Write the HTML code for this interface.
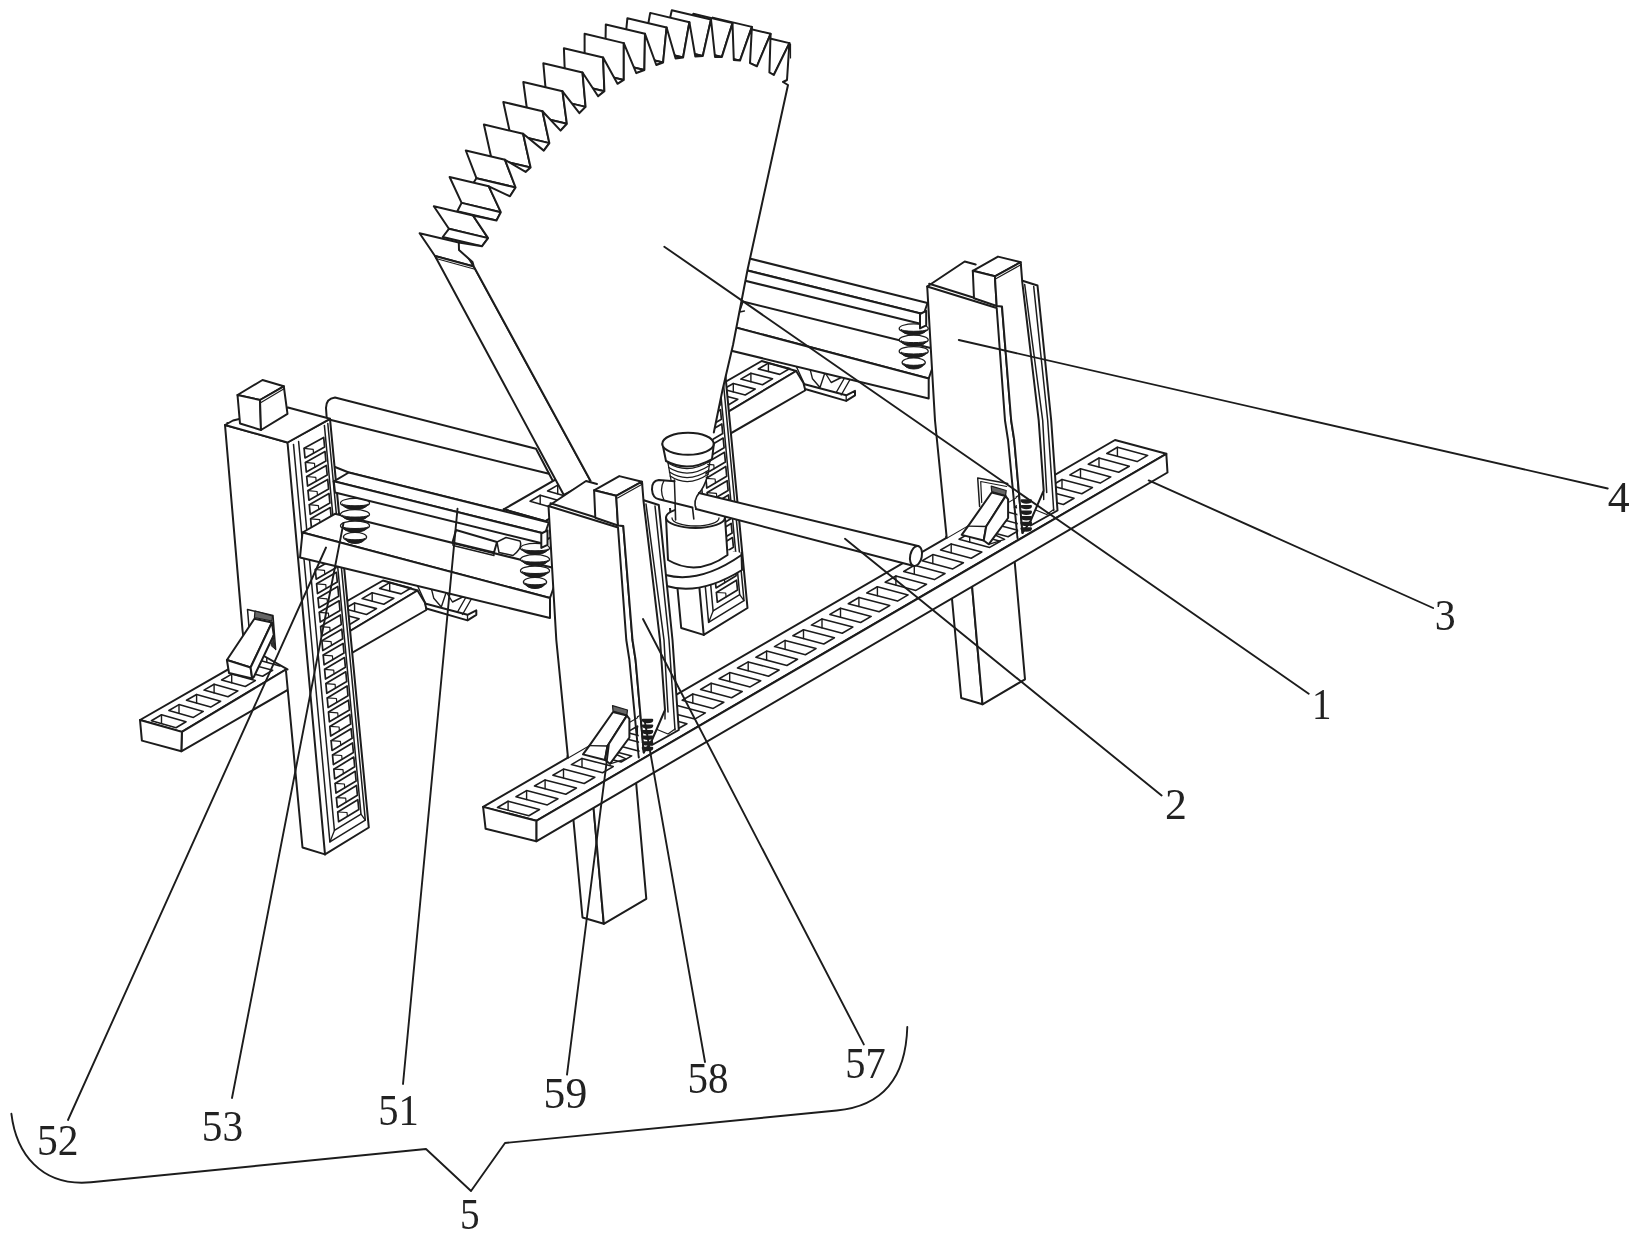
<!DOCTYPE html>
<html><head><meta charset="utf-8"><title>Figure</title>
<style>
html,body{margin:0;padding:0;background:#fff;}
body{width:1638px;height:1238px;overflow:hidden;}
svg{display:block;filter:blur(0.5px);}
text{font-family:"Liberation Serif","Noto Serif CJK SC",serif;fill:#222;stroke:none;}
</style></head><body>
<svg width="1638" height="1238" viewBox="0 0 1638 1238" stroke="#1c1c1c" stroke-width="2.0" stroke-linejoin="round" stroke-linecap="round" fill="none">
<path d="M326,408 Q326,398.5 335,397.5 L536,448.8 L556,487 L556,524 L348.8,472.5 L330,465 Z" fill="#fff"/>
<polyline points="331,420 549,473.8" fill="none"/>
<g transform="translate(378.7 -219.5)">
<polygon points="125,728.8 166.9,740.7 417.5,590.5 383,580.5" fill="#fff"/>
<polygon points="166.9,740.7 417.5,590.5 426.3,605 426.3,610 166.3,760.1" fill="#fff"/>
<polygon points="125,728.8 166.9,740.7 166.3,760.1 126.9,749.4" fill="#fff"/>
<polygon points="151.4,720.7 161.5,714.8 186,721.7 176,727.7" fill="none" stroke-width="1.6"/>
<polyline points="161.5,714.8 161.5,723.5" fill="none" stroke-width="1.4"/>
<polygon points="168.9,710.5 179,704.6 203.3,711.4 193.4,717.4" fill="none" stroke-width="1.6"/>
<polyline points="179,704.6 179,713.3" fill="none" stroke-width="1.4"/>
<polygon points="186.5,700.3 196.6,694.5 220.6,701.2 210.7,707.1" fill="none" stroke-width="1.6"/>
<polyline points="196.6,694.5 196.6,703.1" fill="none" stroke-width="1.4"/>
<polygon points="204,690.1 214.1,684.3 237.9,690.9 228,696.8" fill="none" stroke-width="1.6"/>
<polyline points="214.1,684.3 214.1,692.9" fill="none" stroke-width="1.4"/>
<polygon points="221.6,680 231.7,674.1 255.3,680.6 245.3,686.5" fill="none" stroke-width="1.6"/>
<polyline points="231.7,674.1 231.7,682.8" fill="none" stroke-width="1.4"/>
<polygon points="239.2,669.8 249.3,664 272.6,670.3 262.6,676.2" fill="none" stroke-width="1.6"/>
<polyline points="249.3,664 249.3,672.6" fill="none" stroke-width="1.4"/>
<polygon points="256.7,659.6 266.8,653.8 289.9,660 279.9,665.9" fill="none" stroke-width="1.6"/>
<polyline points="266.8,653.8 266.8,662.4" fill="none" stroke-width="1.4"/>
<polygon points="274.3,649.5 284.4,643.6 307.2,649.7 297.2,655.6" fill="none" stroke-width="1.6"/>
<polyline points="284.4,643.6 284.4,652.2" fill="none" stroke-width="1.4"/>
<polygon points="291.8,639.3 301.9,633.5 324.5,639.4 314.6,645.3" fill="none" stroke-width="1.6"/>
<polyline points="301.9,633.5 301.9,642" fill="none" stroke-width="1.4"/>
<polygon points="309.4,629.1 319.5,623.3 341.8,629.1 331.9,635.1" fill="none" stroke-width="1.6"/>
<polyline points="319.5,623.3 319.5,631.8" fill="none" stroke-width="1.4"/>
<polygon points="327,619 337.1,613.1 359.1,618.8 349.2,624.8" fill="none" stroke-width="1.6"/>
<polyline points="337.1,613.1 337.1,621.6" fill="none" stroke-width="1.4"/>
<polygon points="344.5,608.8 354.6,603 376.5,608.6 366.5,614.5" fill="none" stroke-width="1.6"/>
<polyline points="354.6,603 354.6,611.4" fill="none" stroke-width="1.4"/>
<polygon points="362.1,598.6 372.2,592.8 393.8,598.3 383.8,604.2" fill="none" stroke-width="1.6"/>
<polyline points="372.2,592.8 372.2,601.2" fill="none" stroke-width="1.4"/>
<polygon points="379.6,588.5 389.7,582.6 411.1,588 401.1,593.9" fill="none" stroke-width="1.6"/>
<polyline points="389.7,582.6 389.7,591" fill="none" stroke-width="1.4"/>
<polygon points="225,425 287.5,442.5 308.2,669.4 287.5,669.4 256,651.5 246,658 242.5,630" fill="#fff" stroke="none"/>
<polyline points="246,658 242.5,630 225,425 287.5,442.5" fill="none"/>
<polyline points="256,651.5 287.5,669.4" fill="none"/>
<polyline points="227,422.5 289.5,439.5" fill="none" stroke-width="1.2"/>
<polygon points="286,671 302.5,847.5 325,854.4 308.3,671" fill="#fff" stroke="none"/>
<polyline points="286,671 302.5,847.5 325,854.4" fill="none"/>
<polygon points="287.5,442.5 330,418.8 368.8,827.5 325,854.4" fill="#fff"/>
<polyline points="293.5,444.4 329.9,841.9 365.3,820.1 327.8,423.5" fill="none" stroke-width="1.5"/>
<polyline points="298.6,441.5 334.4,830.4 361,814.1 324.4,425.4" fill="none" stroke-width="1.5"/>
<polyline points="329.9,841.9 334.4,830.4" fill="none" stroke-width="1.3"/>
<polyline points="365.3,820.1 361,814.1" fill="none" stroke-width="1.3"/>
<polygon points="304.1,448.3 323.7,437.4 324.6,446.9 305,457.9" fill="none" stroke-width="1.7"/>
<polyline points="304.1,448.3 313.2,449.3 313.5,453.1" fill="none" stroke-width="1.2"/>
<polygon points="305.4,462.4 325,451.4 325.9,461 306.3,472" fill="none" stroke-width="1.7"/>
<polyline points="305.4,462.4 314.5,463.4 314.8,467.2" fill="none" stroke-width="1.2"/>
<polygon points="306.7,476.5 326.3,465.5 327.2,475 307.6,486.1" fill="none" stroke-width="1.7"/>
<polyline points="306.7,476.5 315.8,477.4 316.2,481.3" fill="none" stroke-width="1.2"/>
<polygon points="308,490.6 327.7,479.5 328.6,489 308.9,500.2" fill="none" stroke-width="1.7"/>
<polyline points="308,490.6 317.1,491.5 317.5,495.3" fill="none" stroke-width="1.2"/>
<polygon points="309.3,504.7 329,493.5 329.9,503.1 310.2,514.3" fill="none" stroke-width="1.7"/>
<polyline points="309.3,504.7 318.4,505.6 318.8,509.4" fill="none" stroke-width="1.2"/>
<polygon points="310.6,518.8 330.3,507.6 331.2,517.1 311.5,528.3" fill="none" stroke-width="1.7"/>
<polyline points="310.6,518.8 319.7,519.6 320.1,523.4" fill="none" stroke-width="1.2"/>
<polygon points="311.9,532.8 331.6,521.6 332.5,531.1 312.8,542.4" fill="none" stroke-width="1.7"/>
<polyline points="311.9,532.8 321,533.7 321.4,537.5" fill="none" stroke-width="1.2"/>
<polygon points="315.3,569.5 335.1,558.1 336,567.8 316.2,579.2" fill="none" stroke-width="1.7"/>
<polyline points="315.3,569.5 324.5,570.4 324.8,574.2" fill="none" stroke-width="1.2"/>
<polygon points="316.6,583.8 336.4,572.3 337.3,582 317.5,593.5" fill="none" stroke-width="1.7"/>
<polyline points="316.6,583.8 325.8,584.6 326.1,588.5" fill="none" stroke-width="1.2"/>
<polygon points="318,598 337.8,586.5 338.7,596.2 318.9,607.7" fill="none" stroke-width="1.7"/>
<polyline points="318,598 327.1,598.9 327.5,602.7" fill="none" stroke-width="1.2"/>
<polygon points="319.3,612.3 339.1,600.8 340,610.4 320.2,622" fill="none" stroke-width="1.7"/>
<polyline points="319.3,612.3 328.4,613.1 328.8,617" fill="none" stroke-width="1.2"/>
<polygon points="320.6,626.6 340.4,615 341.3,624.6 321.5,636.3" fill="none" stroke-width="1.7"/>
<polyline points="320.6,626.6 329.8,627.3 330.1,631.2" fill="none" stroke-width="1.2"/>
<polygon points="321.9,640.8 341.8,629.2 342.7,638.8 322.8,650.5" fill="none" stroke-width="1.7"/>
<polyline points="321.9,640.8 331.1,641.6 331.5,645.4" fill="none" stroke-width="1.2"/>
<polygon points="323.2,655.1 343.1,643.4 344,653.1 324.1,664.8" fill="none" stroke-width="1.7"/>
<polyline points="323.2,655.1 332.4,655.8 332.8,659.7" fill="none" stroke-width="1.2"/>
<polygon points="324.6,669.3 344.5,657.6 345.4,667.3 325.5,679" fill="none" stroke-width="1.7"/>
<polyline points="324.6,669.3 333.7,670.1 334.1,673.9" fill="none" stroke-width="1.2"/>
<polygon points="325.9,683.6 345.8,671.8 346.7,681.5 326.8,693.3" fill="none" stroke-width="1.7"/>
<polyline points="325.9,683.6 335.1,684.3 335.4,688.2" fill="none" stroke-width="1.2"/>
<polygon points="327.2,697.9 347.1,686 348,695.7 328.1,707.6" fill="none" stroke-width="1.7"/>
<polyline points="327.2,697.9 336.4,698.5 336.8,702.4" fill="none" stroke-width="1.2"/>
<polygon points="328.5,712.1 348.5,700.2 349.4,709.9 329.4,721.8" fill="none" stroke-width="1.7"/>
<polyline points="328.5,712.1 337.7,712.8 338.1,716.6" fill="none" stroke-width="1.2"/>
<polygon points="329.8,726.4 349.8,714.4 350.7,724.1 330.7,736.1" fill="none" stroke-width="1.7"/>
<polyline points="329.8,726.4 339.1,727 339.4,730.9" fill="none" stroke-width="1.2"/>
<polygon points="331.1,740.7 351.1,728.7 352.1,738.3 332,750.4" fill="none" stroke-width="1.7"/>
<polyline points="331.1,740.7 340.4,741.3 340.7,745.1" fill="none" stroke-width="1.2"/>
<polygon points="332.5,754.9 352.5,742.9 353.4,752.5 333.4,764.6" fill="none" stroke-width="1.7"/>
<polyline points="332.5,754.9 341.7,755.5 342.1,759.4" fill="none" stroke-width="1.2"/>
<polygon points="333.8,769.2 353.8,757.1 354.7,766.7 334.7,778.9" fill="none" stroke-width="1.7"/>
<polyline points="333.8,769.2 343,769.7 343.4,773.6" fill="none" stroke-width="1.2"/>
<polygon points="335.1,783.4 355.2,771.3 356.1,781 336,793.1" fill="none" stroke-width="1.7"/>
<polyline points="335.1,783.4 344.4,784 344.7,787.8" fill="none" stroke-width="1.2"/>
<polygon points="336.4,797.7 356.5,785.5 357.4,795.2 337.3,807.4" fill="none" stroke-width="1.7"/>
<polyline points="336.4,797.7 345.7,798.2 346.1,802.1" fill="none" stroke-width="1.2"/>
<polygon points="337.7,812 357.8,799.7 358.8,809.4 338.6,821.7" fill="none" stroke-width="1.7"/>
<polyline points="337.7,812 347,812.5 347.4,816.3" fill="none" stroke-width="1.2"/>
<polygon points="225,425 233,420.5 288,407.5 330,418.8 287.5,442.5" fill="#fff"/>
<polygon points="237.5,395 262.5,380 283.8,386.3 260,400" fill="#fff"/>
<polygon points="237.5,395 260,400 261,430 240,423.5" fill="#fff"/>
<polygon points="260,400 283.8,386.3 287.5,413.8 261,430" fill="#fff"/>
<polyline points="261,402.5 284.5,388.5" fill="none" stroke-width="1.2"/>
<polyline points="249.4,632 247.5,609.4 273,615.6 275.6,649.4" fill="none" stroke-width="1.5"/>
<polygon points="255,611 272.5,616 272,621 254.4,617.5" fill="#666" stroke-width="1.2"/>
<polygon points="254.4,618.8 271.9,622.5 250.6,667.5 226.9,660" fill="#fff"/>
<polygon points="226.9,660 250.6,667.5 252.2,678.5 229,673" fill="#fff"/>
<polygon points="271.9,622.5 273.8,635 253.8,677 252.2,678.5 250.6,667.5" fill="#fff"/>
<polygon points="273,636 275.6,649.4 271.5,646" fill="#333" stroke-width="1"/>
<polygon points="425,603.5 467.5,614.8 476.3,610.4 476.3,614.8 467.5,620.4 426.3,608.5" fill="#fff"/>
<polyline points="467.5,614.8 467.5,620.4" fill="none" stroke-width="1.3"/>
<polyline points="417.5,585.8 425,602" fill="none" stroke-width="1.4"/>
<polyline points="431.3,588.3 433.8,598.3 441.3,607 446.3,592 452.5,602 467.5,594.5 457.5,612" fill="none" stroke-width="1.4"/>
<polyline points="472.5,597 462.5,614.5" fill="none" stroke-width="1.4"/>
<polygon points="302.5,532.5 335,513.8 560,569.5 550,598" fill="#fff"/>
<polygon points="302.5,532.5 550,598 550,618 300,557.5" fill="#fff"/>
<ellipse cx="535" cy="548" rx="14.5" ry="4.6" fill="#fff" stroke-width="1.3"/>
<path d="M522.5,549.2 A12.5,5.3 0 0 0 547.5,549.2 A12.5,1.6 0 0 1 522.5,549.2 Z" fill="#1c1c1c" stroke-width="1.0"/>
<ellipse cx="535" cy="559.3" rx="14.5" ry="4.6" fill="#fff" stroke-width="1.3"/>
<path d="M522.5,560.5 A12.5,5.3 0 0 0 547.5,560.5 A12.5,1.6 0 0 1 522.5,560.5 Z" fill="#1c1c1c" stroke-width="1.0"/>
<ellipse cx="535" cy="570.7" rx="14.5" ry="4.6" fill="#fff" stroke-width="1.3"/>
<path d="M522.5,571.9 A12.5,5.3 0 0 0 547.5,571.9 A12.5,1.6 0 0 1 522.5,571.9 Z" fill="#1c1c1c" stroke-width="1.0"/>
<ellipse cx="535" cy="582" rx="11.6" ry="4.6" fill="#fff" stroke-width="1.3"/>
<path d="M525,583.2 A10,5.3 0 0 0 545,583.2 A10,1.6 0 0 1 525,583.2 Z" fill="#1c1c1c" stroke-width="1.0"/>
<polygon points="348.8,472.5 548.8,522.5 545,533.8 333.8,481.3" fill="#fff"/>
<polygon points="333.8,481.3 545,533.8 543.8,543.8 335,492.5" fill="#fff"/>
<polygon points="541.3,533.5 547.5,530.4 547.5,544.8 541.3,547.9" fill="#fff"/>
</g>
<polygon points="140,720 181.9,731.9 417.5,590.5 383,580.5" fill="#fff"/>
<polygon points="181.9,731.9 417.5,590.5 426.3,605 426.3,610 181.3,751.3" fill="#fff"/>
<polygon points="140,720 181.9,731.9 181.3,751.3 141.9,740.6" fill="#fff"/>
<polygon points="151.4,720.7 161.5,714.8 186,721.7 176,727.7" fill="none" stroke-width="1.6"/>
<polyline points="161.5,714.8 161.5,723.5" fill="none" stroke-width="1.4"/>
<polygon points="168.9,710.5 179,704.6 203.3,711.4 193.4,717.4" fill="none" stroke-width="1.6"/>
<polyline points="179,704.6 179,713.3" fill="none" stroke-width="1.4"/>
<polygon points="186.5,700.3 196.6,694.5 220.6,701.2 210.7,707.1" fill="none" stroke-width="1.6"/>
<polyline points="196.6,694.5 196.6,703.1" fill="none" stroke-width="1.4"/>
<polygon points="204,690.1 214.1,684.3 237.9,690.9 228,696.8" fill="none" stroke-width="1.6"/>
<polyline points="214.1,684.3 214.1,692.9" fill="none" stroke-width="1.4"/>
<polygon points="221.6,680 231.7,674.1 255.3,680.6 245.3,686.5" fill="none" stroke-width="1.6"/>
<polyline points="231.7,674.1 231.7,682.8" fill="none" stroke-width="1.4"/>
<polygon points="239.2,669.8 249.3,664 272.6,670.3 262.6,676.2" fill="none" stroke-width="1.6"/>
<polyline points="249.3,664 249.3,672.6" fill="none" stroke-width="1.4"/>
<polygon points="256.7,659.6 266.8,653.8 289.9,660 279.9,665.9" fill="none" stroke-width="1.6"/>
<polyline points="266.8,653.8 266.8,662.4" fill="none" stroke-width="1.4"/>
<polygon points="274.3,649.5 284.4,643.6 307.2,649.7 297.2,655.6" fill="none" stroke-width="1.6"/>
<polyline points="284.4,643.6 284.4,652.2" fill="none" stroke-width="1.4"/>
<polygon points="291.8,639.3 301.9,633.5 324.5,639.4 314.6,645.3" fill="none" stroke-width="1.6"/>
<polyline points="301.9,633.5 301.9,642" fill="none" stroke-width="1.4"/>
<polygon points="309.4,629.1 319.5,623.3 341.8,629.1 331.9,635.1" fill="none" stroke-width="1.6"/>
<polyline points="319.5,623.3 319.5,631.8" fill="none" stroke-width="1.4"/>
<polygon points="327,619 337.1,613.1 359.1,618.8 349.2,624.8" fill="none" stroke-width="1.6"/>
<polyline points="337.1,613.1 337.1,621.6" fill="none" stroke-width="1.4"/>
<polygon points="344.5,608.8 354.6,603 376.5,608.6 366.5,614.5" fill="none" stroke-width="1.6"/>
<polyline points="354.6,603 354.6,611.4" fill="none" stroke-width="1.4"/>
<polygon points="362.1,598.6 372.2,592.8 393.8,598.3 383.8,604.2" fill="none" stroke-width="1.6"/>
<polyline points="372.2,592.8 372.2,601.2" fill="none" stroke-width="1.4"/>
<polygon points="379.6,588.5 389.7,582.6 411.1,588 401.1,593.9" fill="none" stroke-width="1.6"/>
<polyline points="389.7,582.6 389.7,591" fill="none" stroke-width="1.4"/>
<polygon points="225,425 287.5,442.5 308.2,669.4 287.5,669.4 256,651.5 246,658 242.5,630" fill="#fff" stroke="none"/>
<polyline points="246,658 242.5,630 225,425 287.5,442.5" fill="none"/>
<polyline points="256,651.5 287.5,669.4" fill="none"/>
<polyline points="227,422.5 289.5,439.5" fill="none" stroke-width="1.2"/>
<polygon points="286,671 302.5,847.5 325,854.4 308.3,671" fill="#fff" stroke="none"/>
<polyline points="286,671 302.5,847.5 325,854.4" fill="none"/>
<polygon points="287.5,442.5 330,418.8 368.8,827.5 325,854.4" fill="#fff"/>
<polyline points="293.5,444.4 329.9,841.9 365.3,820.1 327.8,423.5" fill="none" stroke-width="1.5"/>
<polyline points="298.6,441.5 334.4,830.4 361,814.1 324.4,425.4" fill="none" stroke-width="1.5"/>
<polyline points="329.9,841.9 334.4,830.4" fill="none" stroke-width="1.3"/>
<polyline points="365.3,820.1 361,814.1" fill="none" stroke-width="1.3"/>
<polygon points="304.1,448.3 323.7,437.4 324.6,446.9 305,457.9" fill="none" stroke-width="1.7"/>
<polyline points="304.1,448.3 313.2,449.3 313.5,453.1" fill="none" stroke-width="1.2"/>
<polygon points="305.4,462.4 325,451.4 325.9,461 306.3,472" fill="none" stroke-width="1.7"/>
<polyline points="305.4,462.4 314.5,463.4 314.8,467.2" fill="none" stroke-width="1.2"/>
<polygon points="306.7,476.5 326.3,465.5 327.2,475 307.6,486.1" fill="none" stroke-width="1.7"/>
<polyline points="306.7,476.5 315.8,477.4 316.2,481.3" fill="none" stroke-width="1.2"/>
<polygon points="308,490.6 327.7,479.5 328.6,489 308.9,500.2" fill="none" stroke-width="1.7"/>
<polyline points="308,490.6 317.1,491.5 317.5,495.3" fill="none" stroke-width="1.2"/>
<polygon points="309.3,504.7 329,493.5 329.9,503.1 310.2,514.3" fill="none" stroke-width="1.7"/>
<polyline points="309.3,504.7 318.4,505.6 318.8,509.4" fill="none" stroke-width="1.2"/>
<polygon points="310.6,518.8 330.3,507.6 331.2,517.1 311.5,528.3" fill="none" stroke-width="1.7"/>
<polyline points="310.6,518.8 319.7,519.6 320.1,523.4" fill="none" stroke-width="1.2"/>
<polygon points="311.9,532.8 331.6,521.6 332.5,531.1 312.8,542.4" fill="none" stroke-width="1.7"/>
<polyline points="311.9,532.8 321,533.7 321.4,537.5" fill="none" stroke-width="1.2"/>
<polygon points="315.3,569.5 335.1,558.1 336,567.8 316.2,579.2" fill="none" stroke-width="1.7"/>
<polyline points="315.3,569.5 324.5,570.4 324.8,574.2" fill="none" stroke-width="1.2"/>
<polygon points="316.6,583.8 336.4,572.3 337.3,582 317.5,593.5" fill="none" stroke-width="1.7"/>
<polyline points="316.6,583.8 325.8,584.6 326.1,588.5" fill="none" stroke-width="1.2"/>
<polygon points="318,598 337.8,586.5 338.7,596.2 318.9,607.7" fill="none" stroke-width="1.7"/>
<polyline points="318,598 327.1,598.9 327.5,602.7" fill="none" stroke-width="1.2"/>
<polygon points="319.3,612.3 339.1,600.8 340,610.4 320.2,622" fill="none" stroke-width="1.7"/>
<polyline points="319.3,612.3 328.4,613.1 328.8,617" fill="none" stroke-width="1.2"/>
<polygon points="320.6,626.6 340.4,615 341.3,624.6 321.5,636.3" fill="none" stroke-width="1.7"/>
<polyline points="320.6,626.6 329.8,627.3 330.1,631.2" fill="none" stroke-width="1.2"/>
<polygon points="321.9,640.8 341.8,629.2 342.7,638.8 322.8,650.5" fill="none" stroke-width="1.7"/>
<polyline points="321.9,640.8 331.1,641.6 331.5,645.4" fill="none" stroke-width="1.2"/>
<polygon points="323.2,655.1 343.1,643.4 344,653.1 324.1,664.8" fill="none" stroke-width="1.7"/>
<polyline points="323.2,655.1 332.4,655.8 332.8,659.7" fill="none" stroke-width="1.2"/>
<polygon points="324.6,669.3 344.5,657.6 345.4,667.3 325.5,679" fill="none" stroke-width="1.7"/>
<polyline points="324.6,669.3 333.7,670.1 334.1,673.9" fill="none" stroke-width="1.2"/>
<polygon points="325.9,683.6 345.8,671.8 346.7,681.5 326.8,693.3" fill="none" stroke-width="1.7"/>
<polyline points="325.9,683.6 335.1,684.3 335.4,688.2" fill="none" stroke-width="1.2"/>
<polygon points="327.2,697.9 347.1,686 348,695.7 328.1,707.6" fill="none" stroke-width="1.7"/>
<polyline points="327.2,697.9 336.4,698.5 336.8,702.4" fill="none" stroke-width="1.2"/>
<polygon points="328.5,712.1 348.5,700.2 349.4,709.9 329.4,721.8" fill="none" stroke-width="1.7"/>
<polyline points="328.5,712.1 337.7,712.8 338.1,716.6" fill="none" stroke-width="1.2"/>
<polygon points="329.8,726.4 349.8,714.4 350.7,724.1 330.7,736.1" fill="none" stroke-width="1.7"/>
<polyline points="329.8,726.4 339.1,727 339.4,730.9" fill="none" stroke-width="1.2"/>
<polygon points="331.1,740.7 351.1,728.7 352.1,738.3 332,750.4" fill="none" stroke-width="1.7"/>
<polyline points="331.1,740.7 340.4,741.3 340.7,745.1" fill="none" stroke-width="1.2"/>
<polygon points="332.5,754.9 352.5,742.9 353.4,752.5 333.4,764.6" fill="none" stroke-width="1.7"/>
<polyline points="332.5,754.9 341.7,755.5 342.1,759.4" fill="none" stroke-width="1.2"/>
<polygon points="333.8,769.2 353.8,757.1 354.7,766.7 334.7,778.9" fill="none" stroke-width="1.7"/>
<polyline points="333.8,769.2 343,769.7 343.4,773.6" fill="none" stroke-width="1.2"/>
<polygon points="335.1,783.4 355.2,771.3 356.1,781 336,793.1" fill="none" stroke-width="1.7"/>
<polyline points="335.1,783.4 344.4,784 344.7,787.8" fill="none" stroke-width="1.2"/>
<polygon points="336.4,797.7 356.5,785.5 357.4,795.2 337.3,807.4" fill="none" stroke-width="1.7"/>
<polyline points="336.4,797.7 345.7,798.2 346.1,802.1" fill="none" stroke-width="1.2"/>
<polygon points="337.7,812 357.8,799.7 358.8,809.4 338.6,821.7" fill="none" stroke-width="1.7"/>
<polyline points="337.7,812 347,812.5 347.4,816.3" fill="none" stroke-width="1.2"/>
<polygon points="225,425 233,420.5 288,407.5 330,418.8 287.5,442.5" fill="#fff"/>
<polygon points="237.5,395 262.5,380 283.8,386.3 260,400" fill="#fff"/>
<polygon points="237.5,395 260,400 261,430 240,423.5" fill="#fff"/>
<polygon points="260,400 283.8,386.3 287.5,413.8 261,430" fill="#fff"/>
<polyline points="261,402.5 284.5,388.5" fill="none" stroke-width="1.2"/>
<polyline points="249.4,632 247.5,609.4 273,615.6 275.6,649.4" fill="none" stroke-width="1.5"/>
<polygon points="255,611 272.5,616 272,621 254.4,617.5" fill="#666" stroke-width="1.2"/>
<polygon points="254.4,618.8 271.9,622.5 250.6,667.5 226.9,660" fill="#fff"/>
<polygon points="226.9,660 250.6,667.5 252.2,678.5 229,673" fill="#fff"/>
<polygon points="271.9,622.5 273.8,635 253.8,677 252.2,678.5 250.6,667.5" fill="#fff"/>
<polygon points="273,636 275.6,649.4 271.5,646" fill="#333" stroke-width="1"/>
<polygon points="425,603.5 467.5,614.8 476.3,610.4 476.3,614.8 467.5,620.4 426.3,608.5" fill="#fff"/>
<polyline points="467.5,614.8 467.5,620.4" fill="none" stroke-width="1.3"/>
<polyline points="417.5,585.8 425,602" fill="none" stroke-width="1.4"/>
<polyline points="431.3,588.3 433.8,598.3 441.3,607 446.3,592 452.5,602 467.5,594.5 457.5,612" fill="none" stroke-width="1.4"/>
<polyline points="472.5,597 462.5,614.5" fill="none" stroke-width="1.4"/>
<polygon points="302.5,532.5 335,513.8 560,569.5 550,598" fill="#fff"/>
<polygon points="302.5,532.5 550,598 550,618 300,557.5" fill="#fff"/>
<polygon points="456,530 497,542 494,552.5 452.5,542.5" fill="#fff"/>
<polyline points="452.5,542.5 453,545.5 494,555.5 494,552.5" fill="none" stroke-width="1.3"/>
<path d="M497,542 L506,537.5 L520,541 Q523,548 513,555.5 L499,552.5 Z" fill="#fff" stroke-width="1.5"/>
<ellipse cx="355" cy="503" rx="14.5" ry="4.6" fill="#fff" stroke-width="1.3"/>
<path d="M342.5,504.2 A12.5,5.3 0 0 0 367.5,504.2 A12.5,1.6 0 0 1 342.5,504.2 Z" fill="#1c1c1c" stroke-width="1.0"/>
<ellipse cx="355" cy="514.3" rx="14.5" ry="4.6" fill="#fff" stroke-width="1.3"/>
<path d="M342.5,515.5 A12.5,5.3 0 0 0 367.5,515.5 A12.5,1.6 0 0 1 342.5,515.5 Z" fill="#1c1c1c" stroke-width="1.0"/>
<ellipse cx="355" cy="525.7" rx="14.5" ry="4.6" fill="#fff" stroke-width="1.3"/>
<path d="M342.5,526.9 A12.5,5.3 0 0 0 367.5,526.9 A12.5,1.6 0 0 1 342.5,526.9 Z" fill="#1c1c1c" stroke-width="1.0"/>
<ellipse cx="355" cy="537" rx="11.6" ry="4.6" fill="#fff" stroke-width="1.3"/>
<path d="M345,538.2 A10,5.3 0 0 0 365,538.2 A10,1.6 0 0 1 345,538.2 Z" fill="#1c1c1c" stroke-width="1.0"/>
<ellipse cx="535" cy="548" rx="14.5" ry="4.6" fill="#fff" stroke-width="1.3"/>
<path d="M522.5,549.2 A12.5,5.3 0 0 0 547.5,549.2 A12.5,1.6 0 0 1 522.5,549.2 Z" fill="#1c1c1c" stroke-width="1.0"/>
<ellipse cx="535" cy="559.3" rx="14.5" ry="4.6" fill="#fff" stroke-width="1.3"/>
<path d="M522.5,560.5 A12.5,5.3 0 0 0 547.5,560.5 A12.5,1.6 0 0 1 522.5,560.5 Z" fill="#1c1c1c" stroke-width="1.0"/>
<ellipse cx="535" cy="570.7" rx="14.5" ry="4.6" fill="#fff" stroke-width="1.3"/>
<path d="M522.5,571.9 A12.5,5.3 0 0 0 547.5,571.9 A12.5,1.6 0 0 1 522.5,571.9 Z" fill="#1c1c1c" stroke-width="1.0"/>
<ellipse cx="535" cy="582" rx="11.6" ry="4.6" fill="#fff" stroke-width="1.3"/>
<path d="M525,583.2 A10,5.3 0 0 0 545,583.2 A10,1.6 0 0 1 525,583.2 Z" fill="#1c1c1c" stroke-width="1.0"/>
<polygon points="348.8,472.5 548.8,522.5 545,533.8 333.8,481.3" fill="#fff"/>
<polygon points="333.8,481.3 545,533.8 543.8,543.8 335,492.5" fill="#fff"/>
<polygon points="541.3,533.5 547.5,530.4 547.5,544.8 541.3,547.9" fill="#fff"/>
<polygon points="789.4,43.1 750.2,33.8 734.6,65.7 773.8,75" fill="#fff"/>
<polygon points="769.4,72.5 773.8,75 734.6,65.7 730.2,63.2" fill="#fff"/>
<polygon points="770.6,33.8 731.4,24.5 717.7,57 756.9,66.3" fill="#fff"/>
<polygon points="750,63.1 756.9,66.3 717.7,57 710.8,53.8" fill="#fff"/>
<polygon points="751.9,26.9 712.7,17.6 700.8,51.3 740,60.6" fill="#fff"/>
<polygon points="733.8,60 740,60.6 700.8,51.3 694.6,50.7" fill="#fff"/>
<polygon points="732.5,23.1 693.3,13.8 682.7,47.6 721.9,56.9" fill="#fff"/>
<polygon points="715,56.9 721.9,56.9 682.7,47.6 675.8,47.6" fill="#fff"/>
<polygon points="711,19.5 671.8,10.2 663.6,46.7 702.8,56" fill="#fff"/>
<polygon points="695.3,56.5 702.8,56 663.6,46.7 656.1,47.2" fill="#fff"/>
<polygon points="689.4,22.2 650.2,12.9 643.9,48.2 683.1,57.5" fill="#fff"/>
<polygon points="675.6,58.5 683.1,57.5 643.9,48.2 636.4,49.2" fill="#fff"/>
<polygon points="666.6,27.5 627.4,18.2 623.9,53.2 663.1,62.5" fill="#fff"/>
<polygon points="656.3,65 663.1,62.5 623.9,53.2 617.1,55.7" fill="#fff"/>
<polygon points="645,33.8 605.8,24.5 605.2,60.7 644.4,70" fill="#fff"/>
<polygon points="636.3,73.1 644.4,70 605.2,60.7 597.1,63.8" fill="#fff"/>
<polygon points="623.8,43.1 584.6,33.8 584.6,70.7 623.8,80" fill="#fff"/>
<polygon points="617.5,83.8 623.8,80 584.6,70.7 578.3,74.5" fill="#fff"/>
<polygon points="603.1,57.5 563.9,48.2 565.2,82 604.4,91.3" fill="#fff"/>
<polygon points="598.1,96.3 604.4,91.3 565.2,82 558.9,87" fill="#fff"/>
<polygon points="582.5,72.5 543.3,63.2 546.4,97.6 585.6,106.9" fill="#fff"/>
<polygon points="579.4,113.1 585.6,106.9 546.4,97.6 540.2,103.8" fill="#fff"/>
<polygon points="562.5,91.3 523.3,82 527.7,114.5 566.9,123.8" fill="#fff"/>
<polygon points="560.6,130.6 566.9,123.8 527.7,114.5 521.4,121.3" fill="#fff"/>
<polygon points="542.5,111.3 503.3,102 510.2,133.8 549.4,143.1" fill="#fff"/>
<polygon points="543.8,150.6 549.4,143.1 510.2,133.8 504.6,141.3" fill="#fff"/>
<polygon points="523.1,133.8 483.9,124.5 491.4,158.2 530.6,167.5" fill="#fff"/>
<polygon points="525.6,171.9 530.6,167.5 491.4,158.2 486.4,162.6" fill="#fff"/>
<polygon points="505,159.8 465.8,150.5 476.4,178.2 515.6,187.5" fill="#fff"/>
<polygon points="510,196.3 515.6,187.5 476.4,178.2 470.8,187" fill="#fff"/>
<polygon points="488.8,186.3 449.6,177 461.6,202.9 500.8,212.2" fill="#fff"/>
<polygon points="496.5,220.5 500.8,212.2 461.6,202.9 457.3,211.2" fill="#fff"/>
<polygon points="473,215.5 433.8,206.2 448.9,228.8 488.1,238.1" fill="#fff"/>
<polygon points="481.9,246.3 488.1,238.1 448.9,228.8 442.7,237" fill="#fff"/>
<polygon points="458.8,242.5 419.6,233.2 435,256 473.8,266.5" fill="#fff"/>
<polygon points="435,256 473.8,266.5 590.6,481 563.8,495" fill="#fff"/>
<polyline points="436,258.5 474,269" fill="none" stroke-width="1.2"/>
<polygon points="458.8,242.5 481.9,246.3 488.1,238.1 473,215.5 496.5,220.5 500.8,212.2 488.8,186.3 510,196.3 515.6,187.5 505,159.8 525.6,171.9 530.6,167.5 523.1,133.8 543.8,150.6 549.4,143.1 542.5,111.3 560.6,130.6 566.9,123.8 562.5,91.3 579.4,113.1 585.6,106.9 582.5,72.5 598.1,96.3 604.4,91.3 603.1,57.5 617.5,83.8 623.8,80 623.8,43.1 636.3,73.1 644.4,70 645,33.8 656.3,65 663.1,62.5 666.6,27.5 675.6,58.5 683.1,57.5 689.4,22.2 695.3,56.5 702.8,56 711,19.5 715,56.9 721.9,56.9 732.5,23.1 733.8,60 740,60.6 751.9,26.9 750,63.1 756.9,66.3 770.6,33.8 769.4,72.5 773.8,75 789.4,43.1 787,80 783,82 788,85 747.5,270 733,345 722.5,390 713.8,432.5 704,480 696,508 606,508 590.6,481 473.8,266.5 472.5,262 459,250" fill="#fff" stroke="none"/>
<polyline points="590.6,481 473.8,266.5 472.5,262 459,250 458.8,242.5 481.9,246.3 488.1,238.1 473,215.5 496.5,220.5 500.8,212.2 488.8,186.3 510,196.3 515.6,187.5 505,159.8 525.6,171.9 530.6,167.5 523.1,133.8 543.8,150.6 549.4,143.1 542.5,111.3 560.6,130.6 566.9,123.8 562.5,91.3 579.4,113.1 585.6,106.9 582.5,72.5 598.1,96.3 604.4,91.3 603.1,57.5 617.5,83.8 623.8,80 623.8,43.1 636.3,73.1 644.4,70 645,33.8 656.3,65 663.1,62.5 666.6,27.5 675.6,58.5 683.1,57.5 689.4,22.2 695.3,56.5 702.8,56 711,19.5 715,56.9 721.9,56.9 732.5,23.1 733.8,60 740,60.6 751.9,26.9 750,63.1 756.9,66.3 770.6,33.8 769.4,72.5 773.8,75 789.4,43.1 787,80 783,82 788,85 747.5,270 733,345 722.5,390 713.8,432.5" fill="none"/>
<polyline points="790.5,44 790.5,58" fill="none" stroke-width="1.2"/>
<polyline points="743,302 739.5,312 744.5,311" fill="none" stroke-width="1.3"/>
<path d="M665.6,575 L666.5,586 Q700,596 742,570 L741.5,553 L727,550 L668,558 Z" fill="#fff" stroke="none"/>
<path d="M665.6,575 L666.5,586 Q700,596 742,570 L741.5,553" fill="none"/>
<path d="M665.6,575 Q700,584 741.5,555" fill="none"/>
<path d="M666,517.5 L668,560 Q697,577 727.5,555 L725,517.5 Z" fill="#fff"/>
<ellipse cx="695.5" cy="517.5" rx="29.5" ry="10.5" fill="#fff"/>
<path d="M672,518 A23.5,8 0 0 0 719,518" fill="none" stroke-width="1.3"/>
<polygon points="674.4,478 707,478 700,492 696,509 693.8,521 675.6,521" fill="#fff" stroke="none"/>
<polyline points="674.4,480 675.6,520" fill="none" stroke-width="1.6"/>
<polyline points="692.5,507.5 693.8,519" fill="none" stroke-width="1.6"/>
<path d="M662.5,444 L666,461 Q688,473 712,459 L714,443 Z" fill="#fff"/>
<ellipse cx="688" cy="443.8" rx="25.7" ry="11" fill="#fff"/>
<path d="M668,463 Q688,475 710,461" fill="none" stroke-width="1.3"/>
<path d="M668.7,467.5 Q688,479.5 709.5,465.5" fill="none" stroke-width="1.3"/>
<path d="M669.4,472 Q688,484 709,470" fill="none" stroke-width="1.3"/>
<path d="M670.1,476 Q688,488 708.5,474" fill="none" stroke-width="1.3"/>
<polyline points="668,463 671,480" fill="none" stroke-width="1.3"/>
<polyline points="710,461 708,474" fill="none" stroke-width="1.3"/>
<polygon points="567.5,756 582.5,917.5 603.8,923.8 592,790" fill="#fff"/>
<polygon points="592,790 603.8,923.8 646.3,898.8 635,770" fill="#fff"/>
<g transform="translate(378.7 -219.5)">
<polygon points="567.5,756 582.5,917.5 603.8,923.8 592,790" fill="#fff"/>
<polygon points="592,790 603.8,923.8 646.3,898.8 635,770" fill="#fff"/>
</g>
<polygon points="483.1,806.9 536.3,820.8 1166.3,453.8 1115,440" fill="#fff"/>
<polygon points="536.3,820.8 1166.3,453.8 1167.5,472.5 536.3,841.3" fill="#fff"/>
<polygon points="483.1,806.9 536.3,820.8 536.3,841.3 485.6,828.8" fill="#fff"/>
<polygon points="497.5,807.5 508.1,801.3 539.5,809.5 528.9,815.7" fill="none" stroke-width="1.6"/>
<polyline points="508.1,801.3 508.1,810.3" fill="none" stroke-width="1.4"/>
<polygon points="516,796.8 526.6,790.6 557.9,798.8 547.3,804.9" fill="none" stroke-width="1.6"/>
<polyline points="526.6,790.6 526.6,799.5" fill="none" stroke-width="1.4"/>
<polygon points="534.5,786 545.1,779.9 576.4,788 565.8,794.2" fill="none" stroke-width="1.6"/>
<polyline points="545.1,779.9 545.1,788.8" fill="none" stroke-width="1.4"/>
<polygon points="552.9,775.3 563.5,769.1 594.8,777.3 584.2,783.5" fill="none" stroke-width="1.6"/>
<polyline points="563.5,769.1 563.5,778.1" fill="none" stroke-width="1.4"/>
<polygon points="571.4,764.6 582,758.4 613.2,766.6 602.6,772.8" fill="none" stroke-width="1.6"/>
<polyline points="582,758.4 582,767.4" fill="none" stroke-width="1.4"/>
<polygon points="589.8,753.8 600.5,747.7 631.7,755.9 621.1,762" fill="none" stroke-width="1.6"/>
<polyline points="600.5,747.7 600.5,756.6" fill="none" stroke-width="1.4"/>
<polygon points="608.3,743.1 618.9,736.9 650.1,745.1 639.5,751.3" fill="none" stroke-width="1.6"/>
<polyline points="618.9,736.9 618.9,745.9" fill="none" stroke-width="1.4"/>
<polygon points="626.8,732.4 637.4,726.2 668.5,734.4 657.9,740.6" fill="none" stroke-width="1.6"/>
<polyline points="637.4,726.2 637.4,735.2" fill="none" stroke-width="1.4"/>
<polygon points="645.2,721.7 655.8,715.5 686.9,723.7 676.3,729.8" fill="none" stroke-width="1.6"/>
<polyline points="655.8,715.5 655.8,724.5" fill="none" stroke-width="1.4"/>
<polygon points="663.7,710.9 674.3,704.8 705.4,712.9 694.8,719.1" fill="none" stroke-width="1.6"/>
<polyline points="674.3,704.8 674.3,713.7" fill="none" stroke-width="1.4"/>
<polygon points="682.2,700.2 692.8,694 723.8,702.2 713.2,708.4" fill="none" stroke-width="1.6"/>
<polyline points="692.8,694 692.8,703" fill="none" stroke-width="1.4"/>
<polygon points="700.6,689.5 711.2,683.3 742.2,691.5 731.6,697.7" fill="none" stroke-width="1.6"/>
<polyline points="711.2,683.3 711.2,692.3" fill="none" stroke-width="1.4"/>
<polygon points="719.1,678.8 729.7,672.6 760.7,680.8 750.1,686.9" fill="none" stroke-width="1.6"/>
<polyline points="729.7,672.6 729.7,681.5" fill="none" stroke-width="1.4"/>
<polygon points="737.5,668 748.2,661.9 779.1,670 768.5,676.2" fill="none" stroke-width="1.6"/>
<polyline points="748.2,661.9 748.2,670.8" fill="none" stroke-width="1.4"/>
<polygon points="756,657.3 766.6,651.1 797.5,659.3 786.9,665.5" fill="none" stroke-width="1.6"/>
<polyline points="766.6,651.1 766.6,660.1" fill="none" stroke-width="1.4"/>
<polygon points="774.5,646.6 785.1,640.4 816,648.6 805.4,654.7" fill="none" stroke-width="1.6"/>
<polyline points="785.1,640.4 785.1,649.4" fill="none" stroke-width="1.4"/>
<polygon points="792.9,635.8 803.5,629.7 834.4,637.8 823.8,644" fill="none" stroke-width="1.6"/>
<polyline points="803.5,629.7 803.5,638.6" fill="none" stroke-width="1.4"/>
<polygon points="811.4,625.1 822,618.9 852.8,627.1 842.2,633.3" fill="none" stroke-width="1.6"/>
<polyline points="822,618.9 822,627.9" fill="none" stroke-width="1.4"/>
<polygon points="829.9,614.4 840.5,608.2 871.2,616.4 860.6,622.5" fill="none" stroke-width="1.6"/>
<polyline points="840.5,608.2 840.5,617.2" fill="none" stroke-width="1.4"/>
<polygon points="848.3,603.7 858.9,597.5 889.7,605.6 879.1,611.8" fill="none" stroke-width="1.6"/>
<polyline points="858.9,597.5 858.9,606.5" fill="none" stroke-width="1.4"/>
<polygon points="866.8,592.9 877.4,586.8 908.1,594.9 897.5,601.1" fill="none" stroke-width="1.6"/>
<polyline points="877.4,586.8 877.4,595.7" fill="none" stroke-width="1.4"/>
<polygon points="885.2,582.2 895.9,576 926.5,584.2 915.9,590.4" fill="none" stroke-width="1.6"/>
<polyline points="895.9,576 895.9,585" fill="none" stroke-width="1.4"/>
<polygon points="903.7,571.5 914.3,565.3 945,573.5 934.4,579.6" fill="none" stroke-width="1.6"/>
<polyline points="914.3,565.3 914.3,574.3" fill="none" stroke-width="1.4"/>
<polygon points="922.2,560.8 932.8,554.6 963.4,562.7 952.8,568.9" fill="none" stroke-width="1.6"/>
<polyline points="932.8,554.6 932.8,563.6" fill="none" stroke-width="1.4"/>
<polygon points="940.6,550 951.2,543.9 981.8,552 971.2,558.2" fill="none" stroke-width="1.6"/>
<polyline points="951.2,543.9 951.2,552.8" fill="none" stroke-width="1.4"/>
<polygon points="959.1,539.3 969.7,533.1 1000.3,541.3 989.7,547.4" fill="none" stroke-width="1.6"/>
<polyline points="969.7,533.1 969.7,542.1" fill="none" stroke-width="1.4"/>
<polygon points="977.6,528.6 988.2,522.4 1018.7,530.5 1008.1,536.7" fill="none" stroke-width="1.6"/>
<polyline points="988.2,522.4 988.2,531.4" fill="none" stroke-width="1.4"/>
<polygon points="996,517.8 1006.6,511.7 1037.1,519.8 1026.5,526" fill="none" stroke-width="1.6"/>
<polyline points="1006.6,511.7 1006.6,520.7" fill="none" stroke-width="1.4"/>
<polygon points="1014.5,507.1 1025.1,500.9 1055.5,509.1 1044.9,515.2" fill="none" stroke-width="1.6"/>
<polyline points="1025.1,500.9 1025.1,509.9" fill="none" stroke-width="1.4"/>
<polygon points="1032.9,496.4 1043.6,490.2 1074,498.3 1063.4,504.5" fill="none" stroke-width="1.6"/>
<polyline points="1043.6,490.2 1043.6,499.2" fill="none" stroke-width="1.4"/>
<polygon points="1051.4,485.7 1062,479.5 1092.4,487.6 1081.8,493.8" fill="none" stroke-width="1.6"/>
<polyline points="1062,479.5 1062,488.5" fill="none" stroke-width="1.4"/>
<polygon points="1069.9,474.9 1080.5,468.8 1110.8,476.9 1100.2,483.1" fill="none" stroke-width="1.6"/>
<polyline points="1080.5,468.8 1080.5,477.8" fill="none" stroke-width="1.4"/>
<polygon points="1088.3,464.2 1099,458 1129.3,466.2 1118.7,472.3" fill="none" stroke-width="1.6"/>
<polyline points="1099,458 1099,467" fill="none" stroke-width="1.4"/>
<polygon points="1106.8,453.5 1117.4,447.3 1147.7,455.4 1137.1,461.6" fill="none" stroke-width="1.6"/>
<polyline points="1117.4,447.3 1117.4,456.3" fill="none" stroke-width="1.4"/>
<polygon points="643,500 658.8,505 672.5,640 678.8,730 652,745" fill="#fff"/>
<polyline points="646,504 664,640 668,712" fill="none" stroke-width="1.5"/>
<polyline points="655,506 669,640 675,730" fill="none" stroke-width="1.5"/>
<polyline points="645,722 665,711 665,719" fill="none" stroke-width="1.4"/>
<polyline points="651,727 668,734 675,729" fill="none" stroke-width="1.3"/>
<polygon points="618,527.5 642,481.7 647.5,555 660,640 665,710 643.8,752.5" fill="#fff" stroke="none"/>
<polygon points="548.5,506 586,481 641.3,489 618,527.5" fill="#fff" stroke="none"/>
<polyline points="548.5,506 586,481 597,484" fill="none"/>
<polygon points="548.5,506 618,527.5 626.3,640 629.4,660 636.9,717.6 568,757.6 556.3,640" fill="#fff" stroke="none"/>
<polyline points="568,757.6 556.3,640 548.5,506 618,527.5 626.3,640 629.4,660 638.8,757.5" fill="none"/>
<polygon points="637.9,717.6 639.8,756 643,752 641,715.2" fill="#fff" stroke="none"/>
<polyline points="550.5,503.3 623.3,526 632.5,640 635.6,660 643.8,752.5" fill="none"/>
<polygon points="594.1,490.3 619.3,476.1 642,481.7 616.2,495.8" fill="#fff"/>
<polygon points="594.1,490.3 616.2,495.8 618,525.5 595.3,517.8" fill="#fff"/>
<polygon points="616.2,495.8 642,481.7 643.5,501 660,640 665,710 652,740 643.8,752.5 635.6,660 632.5,640 623.3,526 618,525.5" fill="#fff"/>
<polyline points="617.6,498 642.6,484" fill="none" stroke-width="1.2"/>
<polygon points="612.5,705.6 627.5,710 626.9,715 613,711" fill="#666" stroke-width="1.2"/>
<polygon points="613,712 626.9,715.6 607.5,746 605,760 583,754.4 589.4,745.6" fill="#fff"/>
<polyline points="589.4,745.6 607.5,746" fill="none" stroke-width="1.4"/>
<polygon points="626.9,715.6 629.4,718.8 629.4,737.5 610,763.8 605,760 607.5,746" fill="#fff"/>
<polyline points="610,763.8 626,758.8 617.5,755" fill="none" stroke-width="1.4"/>
<path d="M642.9,720 a4.6,2 0 1 0 9.2,0 Z" fill="#fff" stroke-width="2.4"/>
<path d="M642.9,725.6 a4.6,2 0 1 0 9.2,0 Z" fill="#fff" stroke-width="2.4"/>
<path d="M642.9,731.2 a4.6,2 0 1 0 9.2,0 Z" fill="#fff" stroke-width="2.4"/>
<path d="M642.9,736.8 a4.6,2 0 1 0 9.2,0 Z" fill="#fff" stroke-width="2.4"/>
<path d="M642.9,742.4 a4.6,2 0 1 0 9.2,0 Z" fill="#fff" stroke-width="2.4"/>
<path d="M642.9,748 a4.6,2 0 1 0 9.2,0 Z" fill="#fff" stroke-width="2.4"/>
<g transform="translate(378.7 -219.5)">
<polygon points="643,500 658.8,505 672.5,640 678.8,730 652,745" fill="#fff"/>
<polyline points="646,504 664,640 668,712" fill="none" stroke-width="1.5"/>
<polyline points="655,506 669,640 675,730" fill="none" stroke-width="1.5"/>
<polyline points="645,722 665,711 665,719" fill="none" stroke-width="1.4"/>
<polyline points="651,727 668,734 675,729" fill="none" stroke-width="1.3"/>
<polygon points="618,527.5 642,481.7 647.5,555 660,640 665,710 643.8,752.5" fill="#fff" stroke="none"/>
<polygon points="548.5,506 586,481 641.3,489 618,527.5" fill="#fff" stroke="none"/>
<polyline points="548.5,506 586,481 597,484" fill="none"/>
<polygon points="548.5,506 618,527.5 626.3,640 629.4,660 636.9,717.2 568,757.2 556.3,640" fill="#fff" stroke="none"/>
<polyline points="568,757.2 556.3,640 548.5,506 618,527.5 626.3,640 629.4,660 638.8,757.5" fill="none"/>
<polygon points="637.9,717.2 639.8,756 643,752 641,714.8" fill="#fff" stroke="none"/>
<polyline points="550.5,503.3 623.3,526 632.5,640 635.6,660 643.8,752.5" fill="none"/>
<polygon points="594.1,490.3 619.3,476.1 642,481.7 616.2,495.8" fill="#fff"/>
<polygon points="594.1,490.3 616.2,495.8 618,525.5 595.3,517.8" fill="#fff"/>
<polygon points="616.2,495.8 642,481.7 643.5,501 660,640 665,710 652,740 643.8,752.5 635.6,660 632.5,640 623.3,526 618,525.5" fill="#fff"/>
<polyline points="617.6,498 642.6,484" fill="none" stroke-width="1.2"/>
<polyline points="600.9,726 599,697.5 629,703" fill="none" stroke-width="1.5"/>
<polyline points="603,722 602,701 628,706" fill="none" stroke-width="1.2"/>
<polygon points="612.5,705.6 627.5,710 626.9,715 613,711" fill="#666" stroke-width="1.2"/>
<polygon points="613,712 626.9,715.6 607.5,746 605,760 583,754.4 589.4,745.6" fill="#fff"/>
<polyline points="589.4,745.6 607.5,746" fill="none" stroke-width="1.4"/>
<polygon points="626.9,715.6 629.4,718.8 629.4,737.5 610,763.8 605,760 607.5,746" fill="#fff"/>
<polyline points="610,763.8 626,758.8 617.5,755" fill="none" stroke-width="1.4"/>
<path d="M642.9,720 a4.6,2 0 1 0 9.2,0 Z" fill="#fff" stroke-width="2.4"/>
<path d="M642.9,725.6 a4.6,2 0 1 0 9.2,0 Z" fill="#fff" stroke-width="2.4"/>
<path d="M642.9,731.2 a4.6,2 0 1 0 9.2,0 Z" fill="#fff" stroke-width="2.4"/>
<path d="M642.9,736.8 a4.6,2 0 1 0 9.2,0 Z" fill="#fff" stroke-width="2.4"/>
<path d="M642.9,742.4 a4.6,2 0 1 0 9.2,0 Z" fill="#fff" stroke-width="2.4"/>
<path d="M642.9,748 a4.6,2 0 1 0 9.2,0 Z" fill="#fff" stroke-width="2.4"/>
</g>
<polygon points="699,493 918,546 914,566 696,509" fill="#fff" stroke="none"/>
<polyline points="699,493 918,546" fill="none"/>
<polyline points="696,509 914,566" fill="none"/>
<ellipse cx="916" cy="556" rx="5.8" ry="10.2" fill="#fff" transform="rotate(12 916 556)"/>
<path d="M699,493 Q693.5,500 696,509" fill="none" stroke-width="1.5"/>
<path d="M674.4,481.3 L658.8,480 Q651.5,481 652,489.5 Q652.5,498 659,499.3 L692.5,507.5 L696,509 L699,493 L690,487 Z" fill="#fff" stroke-width="0.01"/>
<path d="M674.4,481.3 L658.8,480 Q651.5,481 652,489.5 Q652.5,498 659,499.3 L692.5,507.5" fill="none"/>
<path d="M664,480.5 Q659,489.5 664,500.3" fill="none" stroke-width="1.3"/>
<path d="M707.5,476 Q704,488 699,493" fill="none" stroke-width="1.6"/>
<polyline points="674.4,481.3 675.2,503" fill="none" stroke-width="1.5"/>
<path d="M699,493 Q693,500.5 696,509" fill="none" stroke-width="1.6"/>
<polyline points="664.3,246.7 1308.7,693.7" fill="none" stroke-width="1.9"/>
<polyline points="845,538.8 1161.6,795.5" fill="none" stroke-width="1.9"/>
<polyline points="1148.7,480.4 1433.1,608" fill="none" stroke-width="1.9"/>
<polyline points="958.8,340 1607.7,488.5" fill="none" stroke-width="1.9"/>
<polyline points="643,619 863.8,1044.4" fill="none" stroke-width="1.9"/>
<polyline points="645,722.5 705,1062" fill="none" stroke-width="1.9"/>
<polyline points="608.8,745 567,1074.6" fill="none" stroke-width="1.9"/>
<polyline points="457.5,508.8 403,1084" fill="none" stroke-width="1.9"/>
<polyline points="343.5,523 232,1098" fill="none" stroke-width="1.9"/>
<polyline points="326,547.5 68,1120" fill="none" stroke-width="1.9"/>
<path d="M11.4,1113.8 C16,1152 40,1187 91,1182.3 L426,1149 L471,1191 L505,1143 L836.8,1110.5 Q905,1104 907.3,1027" fill="none" stroke-width="1.9"/>
<text x="36.9" y="1155.3" font-size="44" textLength="41.5" lengthAdjust="spacingAndGlyphs">52</text>
<text x="201.8" y="1140.6" font-size="44" textLength="41.3" lengthAdjust="spacingAndGlyphs">53</text>
<text x="378.3" y="1124.5" font-size="44" textLength="40.5" lengthAdjust="spacingAndGlyphs">51</text>
<text x="543.6" y="1107.8" font-size="44" textLength="43.6" lengthAdjust="spacingAndGlyphs">59</text>
<text x="687.5" y="1093.2" font-size="44" textLength="41" lengthAdjust="spacingAndGlyphs">58</text>
<text x="845.3" y="1078.3" font-size="44" textLength="40.4" lengthAdjust="spacingAndGlyphs">57</text>
<text x="460" y="1228.5" font-size="44" textLength="19.6" lengthAdjust="spacingAndGlyphs">5</text>
<text x="1607.7" y="511.6" font-size="44" textLength="21.9" lengthAdjust="spacingAndGlyphs">4</text>
<text x="1434.8" y="629.5" font-size="44" textLength="20.9" lengthAdjust="spacingAndGlyphs">3</text>
<text x="1311.9" y="718.5" font-size="44" textLength="19.4" lengthAdjust="spacingAndGlyphs">1</text>
<text x="1164.9" y="819.3" font-size="44" textLength="21.9" lengthAdjust="spacingAndGlyphs">2</text>
</svg>
</body></html>
